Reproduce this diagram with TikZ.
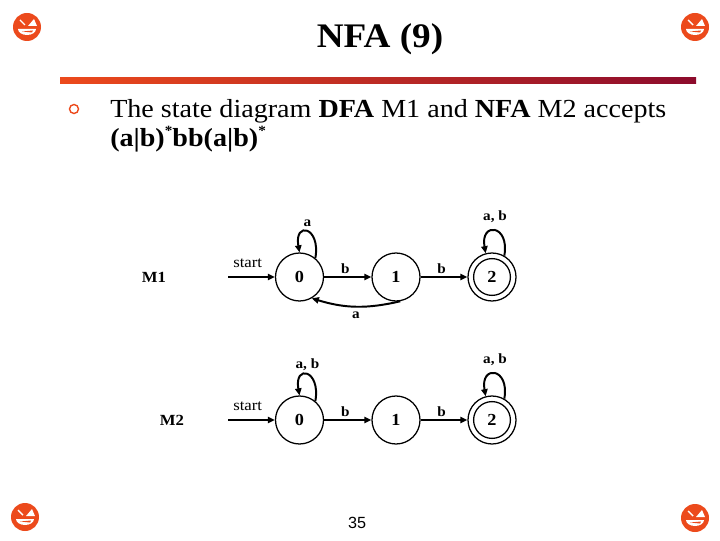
\documentclass[tikz,border=0pt]{standalone}
\usepackage{fontspec}
\setmainfont{Liberation Serif}[FakeStretch=1.08]
\newfontfamily\pagenumfont{Liberation Sans}
\usetikzlibrary{arrows.meta}
\definecolor{slidered}{HTML}{EC4A1C}
\definecolor{slidedark}{HTML}{8C0B2C}
\begin{document}
\begin{tikzpicture}[x=0.025cm, y=0.025cm, >={Triangle[length=5pt,width=4.5pt]},
  state/.style={draw, circle, line width=0.9pt, minimum size=1.2cm, inner sep=0pt, font=\fontsize{12}{14}\selectfont\bfseries},
  accept/.style={state, path picture={\draw[line width=0.9pt] (path picture bounding box.center) circle (0.46cm);}},
  trans/.style={->, line width=1.4pt},
  tlabel/.style={font=\fontsize{10}{12}\selectfont\bfseries, inner sep=0pt},
  machine/.style={font=\fontsize{11}{13}\selectfont\bfseries},
  starttext/.style={font=\fontsize{11}{13}\selectfont, inner sep=0pt},
  bodytext/.style={anchor=base west, inner sep=0pt, font=\fontsize{18.5}{20}\selectfont}]
  \useasboundingbox (0,0) rectangle (720,540);
  % corner icons
  \foreach \cx/\cy in {27/513, 695/513, 25/23, 695/22} {
    \fill[slidered] (\cx,\cy) circle (14);
    \fill[white] (\cx-9,\cy-2) arc[start angle=180, end angle=360, x radius=9, y radius=6] -- cycle;
    \fill[slidered] (\cx-5,\cy-4.5) -- (\cx+6,\cy-3.5) -- (\cx+5,\cy-5.5) -- cycle;
    \fill[white] (\cx+1,\cy+1) -- (\cx+10,\cy+1) -- (\cx+7,\cy+8) -- cycle;
    \draw[white, line width=1pt] (\cx-7,\cy+7) -- (\cx-2,\cy+2);
  }
  % title and rule
  \node[font=\fontsize{24.5}{28}\selectfont\bfseries, anchor=base] (title) at (380,492) {NFA (9)};
  \shade[left color=slidered, right color=slidedark] (60,456) rectangle (696,462);
  \draw[slidered, line width=1pt] (74,431) circle (4.5);
  \node[bodytext] (intro) at (110,422) {The state diagram \textbf{DFA} M1 and \textbf{NFA} M2 accepts};
  \node[bodytext] (regex) at (110,393) {\bfseries (a|b)\raisebox{0.45em}{\fontsize{10}{10}\selectfont *}bb(a|b)\raisebox{0.45em}{\fontsize{10}{10}\selectfont *}};
  % M1
  \node[machine] (m1) at (154,263) {M1};
  \node[state] (m1s0) at (299.5,263) {0};
  \node[state] (m1s1) at (396,263) {1};
  \node[accept] (m1s2) at (492,263) {2};
  \coordinate (m1in) at (228,263);
  \draw[trans] (m1in) -- (m1s0) node[starttext, pos=0.42, above=6pt] {start};
  \draw[trans] (m1s0) -- (m1s1) node[tlabel, pos=0.45, above=2pt] {b};
  \draw[trans] (m1s1) -- (m1s2) node[tlabel, pos=0.45, above=2pt] {b};
  \draw[trans] (m1s0.50) .. controls +(80:0.8cm) and +(100:0.8cm) .. (m1s0.90) node[tlabel, pos=0.5, above=3pt] {a};
  \draw[trans] (m1s2.60) .. controls +(80:0.8cm) and +(100:0.8cm) .. (m1s2.105) node[tlabel, pos=0.5, above=5pt] {a, b};
  \draw[trans] (m1s1.-80) to[bend left=15] node[tlabel, midway, below=3pt] {a} (m1s0.-60);
  % M2
  \node[machine] (m2) at (172,120) {M2};
  \node[state] (m2s0) at (299.5,120) {0};
  \node[state] (m2s1) at (396,120) {1};
  \node[accept] (m2s2) at (492,120) {2};
  \coordinate (m2in) at (228,120);
  \draw[trans] (m2in) -- (m2s0) node[starttext, pos=0.42, above=6pt] {start};
  \draw[trans] (m2s0) -- (m2s1) node[tlabel, pos=0.45, above=2pt] {b};
  \draw[trans] (m2s1) -- (m2s2) node[tlabel, pos=0.45, above=2pt] {b};
  \draw[trans] (m2s0.50) .. controls +(80:0.8cm) and +(100:0.8cm) .. (m2s0.90) node[tlabel, pos=0.5, above=2pt] {a, b};
  \draw[trans] (m2s2.60) .. controls +(80:0.8cm) and +(100:0.8cm) .. (m2s2.105) node[tlabel, pos=0.5, above=5pt] {a, b};
  \node[font=\pagenumfont\fontsize{11.5}{13}\selectfont, anchor=base] (pagenum) at (357,12) {35};
\end{tikzpicture}
\end{document}
